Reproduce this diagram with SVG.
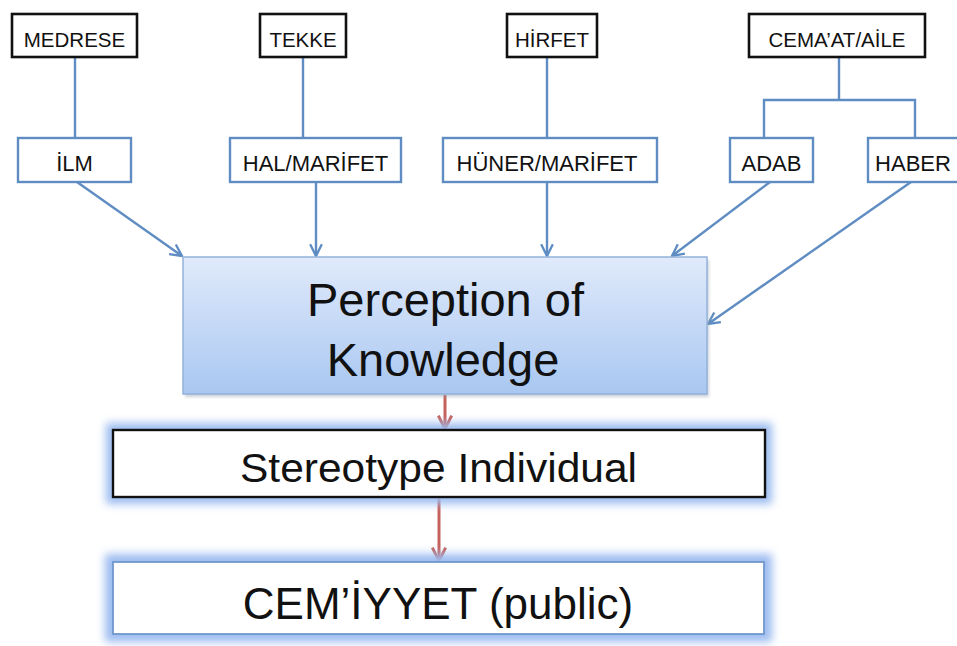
<svg xmlns="http://www.w3.org/2000/svg" width="957" height="646" viewBox="0 0 957 646">
  <defs>
    <style>
      .src rect { fill: #ffffff; stroke: #111111; stroke-width: 2.6; }
      .mid rect { fill: #ffffff; stroke: #5f8dc3; stroke-width: 2.4; }
      .lbl { font-family: "Liberation Sans", Arial, sans-serif; fill: #111111; text-anchor: middle; }
      .sm { font-size: 20.5px; }
      .md { font-size: 22px; }
      .link { fill: none; stroke: #5f8dc3; stroke-width: 2.4; }
      .flow { fill: none; stroke: #c5615b; stroke-width: 3; }
    </style>
    <marker id="headBlue" viewBox="0 0 12 12" refX="11" refY="6" markerWidth="14" markerHeight="14" markerUnits="userSpaceOnUse" orient="auto">
      <path d="M1,1 L11,6 L1,11" fill="none" stroke="#5f8dc3" stroke-width="2"/>
    </marker>
    <marker id="headRed" viewBox="0 0 12 12" refX="11" refY="6" markerWidth="16" markerHeight="16" markerUnits="userSpaceOnUse" orient="auto">
      <path d="M1,1 L11,6 L1,11" fill="none" stroke="#c5615b" stroke-width="2.2"/>
    </marker>
    <linearGradient id="percFill" x1="0" y1="0" x2="0" y2="1">
      <stop offset="0" stop-color="#e0eafb"/>
      <stop offset="1" stop-color="#a9c7f1"/>
    </linearGradient>
    <filter id="halo" x="-10%" y="-40%" width="120%" height="180%">
      <feGaussianBlur stdDeviation="4"/>
    </filter>
    <filter id="shade" x="-5%" y="-10%" width="110%" height="125%">
      <feGaussianBlur stdDeviation="1.5"/>
    </filter>
  </defs>

  <rect width="957" height="646" fill="#ffffff"/>

  <!-- connectors -->
  <g id="connectors">
    <line class="link" x1="75" y1="57" x2="75" y2="138"/>
    <line class="link" x1="303" y1="57" x2="303" y2="138"/>
    <line class="link" x1="547" y1="57" x2="547" y2="138"/>
    <polyline class="link" points="839,57 839,100"/>
    <polyline class="link" points="764,138 764,100 915,100 915,138"/>

    <line class="link" x1="77" y1="182" x2="182" y2="256" marker-end="url(#headBlue)"/>
    <line class="link" x1="316" y1="182" x2="316" y2="256" marker-end="url(#headBlue)"/>
    <line class="link" x1="547" y1="182" x2="547" y2="256" marker-end="url(#headBlue)"/>
    <line class="link" x1="770" y1="182" x2="672" y2="256" marker-end="url(#headBlue)"/>
    <line class="link" x1="911" y1="182" x2="708" y2="324" marker-end="url(#headBlue)"/>

    <line class="flow" x1="445" y1="395" x2="445" y2="429" marker-end="url(#headRed)"/>
    <line class="flow" x1="439" y1="498" x2="439" y2="561" marker-end="url(#headRed)"/>
  </g>

  <!-- source boxes -->
  <g id="medrese" class="src">
    <rect x="12" y="14" width="125" height="43"/>
    <text class="lbl sm" x="74.5" y="47">MEDRESE</text>
  </g>
  <g id="tekke" class="src">
    <rect x="260" y="14" width="86" height="43"/>
    <text class="lbl sm" x="303" y="47">TEKKE</text>
  </g>
  <g id="hirfet" class="src">
    <rect x="507" y="14" width="90" height="43"/>
    <text class="lbl sm" x="552" y="47">HİRFET</text>
  </g>
  <g id="cemaat-aile" class="src">
    <rect x="749" y="14" width="176" height="43"/>
    <text class="lbl sm" x="837" y="47">CEMA’AT/AİLE</text>
  </g>

  <!-- knowledge kinds -->
  <g id="ilm" class="mid">
    <rect x="18" y="138" width="113" height="44"/>
    <text class="lbl md" x="74.5" y="171">İLM</text>
  </g>
  <g id="hal-marifet" class="mid">
    <rect x="230" y="138" width="171" height="44"/>
    <text class="lbl md" x="315.5" y="171">HAL/MARİFET</text>
  </g>
  <g id="huner-marifet" class="mid">
    <rect x="443" y="138" width="214" height="44"/>
    <text class="lbl md" x="547" y="171">HÜNER/MARİFET</text>
  </g>
  <g id="adab" class="mid">
    <rect x="730" y="138" width="83" height="44"/>
    <text class="lbl md" x="771.5" y="171">ADAB</text>
  </g>
  <g id="haber" class="mid">
    <rect x="868" y="138" width="95" height="44"/>
    <text class="lbl md" x="913" y="171">HABER</text>
  </g>

  <!-- central concept -->
  <g id="perception">
    <rect x="185" y="260" width="524" height="137" fill="#9aa4b2" opacity="0.5" filter="url(#shade)"/>
    <rect x="183" y="257" width="524" height="137" fill="url(#percFill)" stroke="#93b2da" stroke-width="1.5"/>
    <text class="lbl" x="445.5" y="316" font-size="47">Perception of</text>
    <text class="lbl" x="443" y="376" font-size="47">Knowledge</text>
  </g>

  <g id="stereotype">
    <rect x="106" y="423" width="666" height="81" fill="#9cbcf0" filter="url(#halo)"/>
    <rect x="113" y="430" width="652" height="67" fill="#ffffff" stroke="#111111" stroke-width="2.4"/>
    <text class="lbl" x="438.5" y="482" font-size="41" textLength="397" lengthAdjust="spacingAndGlyphs">Stereotype Individual</text>
  </g>

  <g id="cemiyyet">
    <rect x="105" y="554" width="667" height="88" fill="#9cbcf0" filter="url(#halo)"/>
    <rect x="113" y="562" width="651" height="72" fill="#ffffff" stroke="#6f98cc" stroke-width="1.8"/>
    <text class="lbl" x="438" y="619" font-size="44">CEM’İYYET (public)</text>
  </g>
</svg>
